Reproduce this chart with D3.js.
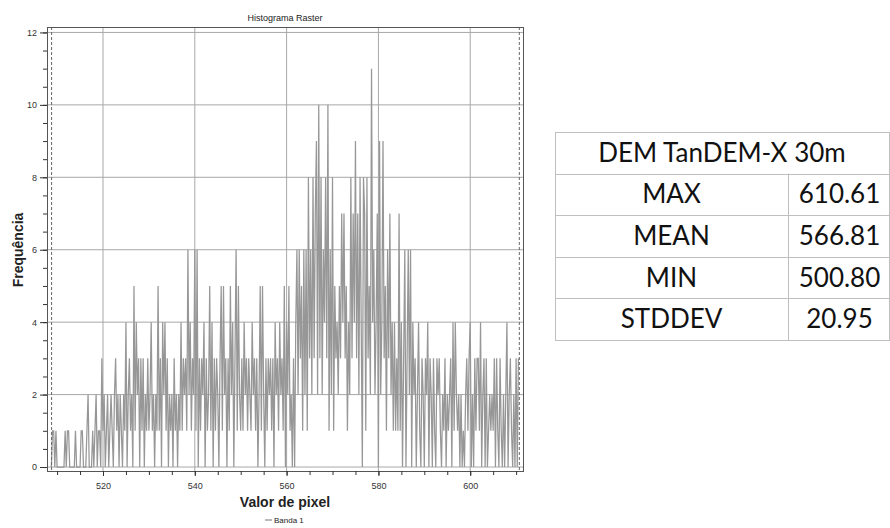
<!DOCTYPE html>
<meta charset="utf-8">
<title>Histograma Raster</title>
<style>

body {
  margin: 0;
  background: #fff;
}

text {
  font-family: "Liberation Sans", Arial, sans-serif;
}
.tick text {
  fill: #333;
  font-size: 9px;
}
.tbl text {
  font-family: Lato, sans-serif;
  font-size: 26px;
  fill: #111;
}
</style>
<body>
<script src="https://cdn.jsdelivr.net/npm/d3@7/dist/d3.min.js"></script>
<script>

// histogram bins, 0.25 wide, starting at 508.75
var binStart = 508.75,
    binWidth = 0.25;

var counts508 = [0,1,1,0,1, 0,0,0,0,0, 0,0,1,0,1, 1,0,0,0,0, 0,1,0,0,0, 0,1,1,0,0, 0,1,2,0,0, 0,1,0,1,2, 0,1,1,0,3];
var counts520 = [1,2,0,1,2, 0,1,2,1,0, 2,3,1,2,0, 2,1,0,2,1, 4,0,2,3,1, 2,0,5,1,4, 2,3,0,3,1, 3,0,2,1,3];
var counts530 = [1,2,4,1,2, 0,2,1,5,1, 3,0,4,2,4, 1,3,0,2,1, 2,0,3,1,2, 0,2,1,4,1, 3,2,3,1,6, 2,4,1,3,2];
var counts540 = [6,1,6,0,3, 1,3,2,4,0, 3,1,2,5,1, 4,0,3,1,3, 2,0,3,5,1, 5,2,3,0,3, 1,5,2,4,0, 3,6,1,5,2];
var counts550 = [1,3,1,4,2, 3,1,3,2,1, 4,2,3,1,3, 0,2,5,1,5, 2,0,3,1,3, 2,3,1,3,0, 4,2,3,1,4, 2,3,1,5,0];
var counts560 = [4,2,5,1,2, 0,3,0,4,6, 2,6,3,5,1, 6,2,6,1,8, 3,6,2,8,3, 7,9,2,10,3, 8,2,6,4,8, 3,10,1,6,2];
var counts570 = [8,1,5,3,4, 2,5,3,7,4, 7,3,5,1,4, 2,8,3,7,4, 9,3,7,2,8, 4,0,8,7,1, 8,3,5,2,11, 4,6,2,4,7];
var counts580 = [0,9,2,4,9, 3,5,1,6,3, 7,2,4,1,4, 1,3,1,7,1, 4,0,3,6,0, 3,6,2,6,0, 4,2,3,0,2, 4,1,0,3,2];
var counts590 = [0,3,2,4,0, 3,2,0,3,1, 0,3,2,3,1, 0,2,1,3,0, 2,1,2,3,0, 4,1,4,2,1, 2,0,2,0,1, 0,2,3,1,3];
var counts600 = [4,0,2,0,3, 1,3,3,1,4, 0,2,3,0,3, 0,1,2,1,2, 1,3,0,3,1, 0,3,1,0,2, 0,2,4,0,2, 3,1,0,2,0, 3,0,3];

var counts = [].concat(counts508, counts520, counts530, counts540, counts550,
                       counts560, counts570, counts580, counts590, counts600);

var yTicks = [0, 2, 4, 6, 8, 10, 12];
var xTicks = [520, 540, 560, 580, 600];
var dataRange = [508.8, 610.7];

var tableTitle = "DEM TanDEM-X 30m";
var statNames = ["MAX", "MEAN", "MIN", "STDDEV"];
var statValues = ["610.61", "566.81", "500.80", "20.95"];

var w = 890,
    h = 528,
    pl = 47,
    pr = 523,
    pt = 27,
    pb = 471;

var svg = d3.select("body").append("svg")
    .attr("width", w)
    .attr("height", h);

var x = d3.scaleLinear().domain([507.8, 611.5]).range([pl, pr]);
var y = d3.scaleLinear().domain([-0.11, 12.15]).range([pb, pt]);

// grid
svg.append("g")
  .selectAll("line")
  .data(yTicks)
  .enter().append("line")
    .attr("x1", pl).attr("x2", pr)
    .attr("y1", function(d){ return y(d); })
    .attr("y2", function(d){ return y(d); })
    .attr("stroke", "#a8a8a8");

svg.append("g")
  .selectAll("line")
  .data(xTicks)
  .enter().append("line")
    .attr("y1", pt).attr("y2", pb)
    .attr("x1", function(d){ return x(d); })
    .attr("x2", function(d){ return x(d); })
    .attr("stroke", "#a8a8a8");

// histogram line
var line = d3.line()
    .x(function(d, i){ return x(binStart + i * binWidth); })
    .y(function(d){ return y(d); });

svg.append("path")
    .datum(counts)
    .attr("d", line)
    .attr("fill", "none")
    .attr("stroke", "#979797")
    .attr("stroke-width", 1.25);

// min / max markers
svg.append("g")
  .selectAll("line")
  .data(dataRange)
  .enter().append("line")
    .attr("y1", pt).attr("y2", pb)
    .attr("x1", function(d){ return x(d); })
    .attr("x2", function(d){ return x(d); })
    .attr("stroke", "#666")
    .attr("stroke-dasharray", "3,2");

// frame
svg.append("rect")
    .attr("x", pl + 0.5).attr("y", pt + 0.5)
    .attr("width", pr - pl).attr("height", pb - pt)
    .attr("fill", "none")
    .attr("stroke", "#555");

// axes
var yMinor = d3.range(0, 12.01, 0.5);
svg.append("g")
    .attr("transform", "translate(" + pl + ",0)")
    .call(d3.axisLeft(y).tickValues(yMinor).tickSize(4).tickFormat(""))
    .call(function(g){ g.select(".domain").remove(); g.selectAll("line").attr("stroke", "#333"); });
svg.append("g")
    .attr("transform", "translate(" + pl + ",0)")
    .call(d3.axisLeft(y).tickValues(yTicks).tickSize(7).tickPadding(3).tickFormat(d3.format("d")))
    .call(function(g){ g.select(".domain").remove(); g.selectAll("line").attr("stroke", "#333"); });

var xMinor = d3.range(510, 611, 5);
svg.append("g")
    .attr("transform", "translate(0," + pb + ")")
    .call(d3.axisBottom(x).tickValues(xMinor).tickSize(4).tickFormat(""))
    .call(function(g){ g.select(".domain").remove(); g.selectAll("line").attr("stroke", "#333"); });
svg.append("g")
    .attr("transform", "translate(0," + pb + ")")
    .call(d3.axisBottom(x).tickValues(xTicks).tickSize(5).tickPadding(7).tickFormat(d3.format("d")))
    .call(function(g){ g.select(".domain").remove(); g.selectAll("line").attr("stroke", "#333"); });

// labels
svg.append("text")
    .attr("x", 285).attr("y", 21)
    .attr("text-anchor", "middle")
    .style("font-size", "9px")
    .style("fill", "#222")
    .text("Histograma Raster");

svg.append("text")
    .attr("transform", "translate(23,250)rotate(-90)")
    .attr("text-anchor", "middle")
    .style("font-size", "14px")
    .style("font-weight", "bold")
    .style("fill", "#222")
    .text("Frequência");

svg.append("text")
    .attr("x", 285).attr("y", 507)
    .attr("text-anchor", "middle")
    .style("font-size", "14px")
    .style("font-weight", "bold")
    .style("fill", "#222")
    .text("Valor de pixel");

var leg = svg.append("g").attr("transform", "translate(265,520)");
leg.append("line")
    .attr("x1", 0).attr("x2", 7).attr("y1", 0).attr("y2", 0)
    .attr("stroke", "#777");
leg.append("text")
    .attr("x", 9).attr("y", 3)
    .style("font-size", "8px")
    .style("fill", "#222")
    .text("Banda 1");

// stats table
var tl = 555, tm = 788, tr = 889;
var rows = d3.scaleBand()
    .domain(["title"].concat(statNames))
    .range([132, 340]);

var tbl = svg.append("g").attr("class", "tbl");

tbl.append("rect")
    .attr("x", tl + 0.5).attr("y", rows.range()[0] + 0.5)
    .attr("width", tr - tl).attr("height", rows.range()[1] - rows.range()[0])
    .attr("fill", "none")
    .attr("stroke", "#bfbfbf");

tbl.selectAll("line.row")
    .data(statNames)
    .enter().append("line")
    .attr("class", "row")
    .attr("x1", tl).attr("x2", tr)
    .attr("y1", function(d){ return Math.round(rows(d)) + 0.5; })
    .attr("y2", function(d){ return Math.round(rows(d)) + 0.5; })
    .attr("stroke", "#bfbfbf");

tbl.append("line")
    .attr("x1", tm + 0.5).attr("x2", tm + 0.5)
    .attr("y1", rows(statNames[0])).attr("y2", rows.range()[1])
    .attr("stroke", "#bfbfbf");

tbl.append("text")
    .attr("x", (tl + tr) / 2)
    .attr("y", rows("title") + rows.bandwidth() / 2 + 9)
    .attr("text-anchor", "middle")
    .text(tableTitle);

tbl.selectAll("text.name")
    .data(statNames)
    .enter().append("text")
    .attr("class", "name")
    .attr("x", (tl + tm) / 2)
    .attr("y", function(d){ return rows(d) + rows.bandwidth() / 2 + 9; })
    .attr("text-anchor", "middle")
    .text(function(d){ return d; });

tbl.selectAll("text.val")
    .data(statValues)
    .enter().append("text")
    .attr("class", "val")
    .attr("x", (tm + tr) / 2 + 1)
    .attr("y", function(d, i){ return rows(statNames[i]) + rows.bandwidth() / 2 + 9; })
    .attr("text-anchor", "middle")
    .text(function(d){ return d; });

</script>
